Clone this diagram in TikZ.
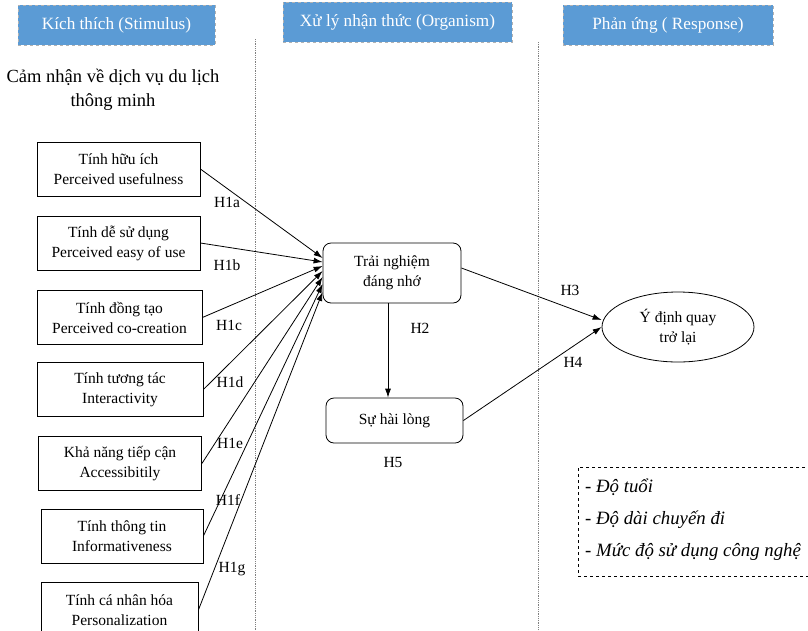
\documentclass[tikz,border=0pt]{standalone}
\usepackage{fontspec}
\setmainfont{Liberation Serif}
\usepackage{tikz}
\usetikzlibrary{arrows,arrows.meta,shapes.geometric}
\definecolor{hdrblue}{HTML}{5B9BD5}

\begin{document}
\begin{tikzpicture}[x=1pt, y=-1pt, >={Latex[length=9pt,width=6pt]},
				    factor/.style={draw, line width=0.8pt, fill=none, minimum width=163pt,
				    			  minimum height=54pt, align=center, text=black,
				    			  font=\fontsize{15.5}{20}\selectfont},
				    state/.style={draw, line width=0.8pt, rounded corners=8pt, fill=none,
				    			  align=center, text=black, font=\fontsize{15.5}{20}\selectfont},
				    header/.style={draw=gray!60, dashed, fill=hdrblue, text=white,
				    			  minimum height=40pt, font=\fontsize{17.2}{20}\selectfont},
				    hyp/.style={inner sep=0pt, font=\fontsize{15.5}{18}\selectfont}]
	\useasboundingbox (0,0) rectangle (808,630);

	% column headers
	\node[header, minimum width=197pt] (h1) at (116.5, 25) {Kích thích (Stimulus)};
	\node[header, minimum width=229pt] (h2) at (397.5, 22) {Xử lý nhận thức (Organism)};
	\node[header, minimum width=210pt] (h3) at (668, 25) {Phản ứng ( Response)};
	\draw[densely dotted, gray, line width=0.8pt] (255, 39) -- (255, 632);
	\draw[densely dotted, gray, line width=0.8pt] (538, 42) -- (538, 632);

	\node[align=center, font=\fontsize{18.5}{24}\selectfont] (t1) at (113, 90)
		{Cảm nhận về dịch vụ du lịch\\thông minh};

	% stimulus factors
	\node[factor] (f1) at (118.5, 169) {Tính hữu ích\\Perceived usefulness};
	\node[factor] (f2) at (118.5, 243) {Tính dễ sử dụng\\Perceived easy of use};
	\node[factor, minimum width=165pt] (f3) at (119.5, 317.5) {Tính đồng tạo\\Perceived co-creation};
	\node[factor, minimum width=166pt] (f4) at (120, 389.5) {Tính tương tác\\Interactivity};
	\node[factor] (f5) at (120, 463.5) {Khả năng tiếp cận\\Accessibitily};
	\node[factor, minimum width=162pt] (f6) at (122, 536) {Tính thông tin\\Informativeness};
	\node[factor, minimum width=157pt, minimum height=56pt] (f7) at (119.5, 610) {Tính cá nhân hóa\\Personalization};

	% organism and response
	\node[state, minimum width=138pt, minimum height=60pt] (o1) at (392, 273) {Trải nghiệm\\đáng nhớ};
	\node[state, minimum width=137pt, minimum height=45pt] (o2) at (394.5, 420.5) {Sự hài lòng};
	\node[draw, ellipse, line width=0.8pt, minimum width=152pt, minimum height=70pt,
		  align=center, font=\fontsize{15.5}{20}\selectfont] (r1) at (678, 327) {Ý định quay\\trở lại};

	\node[draw, dashed, line width=0.8pt, minimum width=236pt, minimum height=109pt] (c0) at (696, 521.5) {};
	\node[anchor=west, inner sep=0pt, align=left, font=\fontsize{18.8}{32}\itshape\selectfont] (c1) at (585, 519.5)
		{- Độ tuổi\\- Độ dài chuyến đi\\- Mức độ sử dụng công nghệ};

	\path[->, line width=0.8pt] 	(f1.east)  edge   ([yshift=15pt]o1.west);
	\path[->, line width=0.8pt] 	(f2.east)  edge   ([yshift=11pt]o1.west);
	\path[->, line width=0.8pt] 	(f3.east)  edge   ([yshift=7pt]o1.west);
	\path[->, line width=0.8pt] 	(f4.east)  edge   ([yshift=2pt]o1.west);
	\path[->, line width=0.8pt] 	(f5.east)  edge   ([yshift=-4pt]o1.west);
	\path[->, line width=0.8pt] 	(f6.east)  edge   ([yshift=-11pt]o1.west);
	\path[->, line width=0.8pt] 	(f7.east)  edge   ([yshift=-19pt]o1.west);
	\path[->, line width=0.8pt] 	([xshift=-4pt]o1.south)  edge   ([xshift=-6.5pt]o2.north);
	\path[->, line width=0.8pt] 	([yshift=5pt]o1.east)  edge   ([yshift=7pt]r1.west);
	\path[->, line width=0.8pt] 	(o2.east)  edge   (r1.west);

	% hypothesis labels
	\node[hyp] (l1a) at (227, 202) {H1a};
	\node[hyp] (l1b) at (227, 265) {H1b};
	\node[hyp] (l1c) at (229, 325) {H1c};
	\node[hyp] (l1d) at (230, 382) {H1d};
	\node[hyp] (l1e) at (230, 443) {H1e};
	\node[hyp] (l1f) at (228, 500) {H1f};
	\node[hyp] (l1g) at (232, 569) {H1g};
	\node[hyp] (l2) at (420, 328) {H2};
	\node[hyp] (l3) at (570, 290) {H3};
	\node[hyp] (l4) at (573, 362) {H4};
	\node[hyp] (l5) at (393, 462) {H5};

\end{tikzpicture}
\end{document}
